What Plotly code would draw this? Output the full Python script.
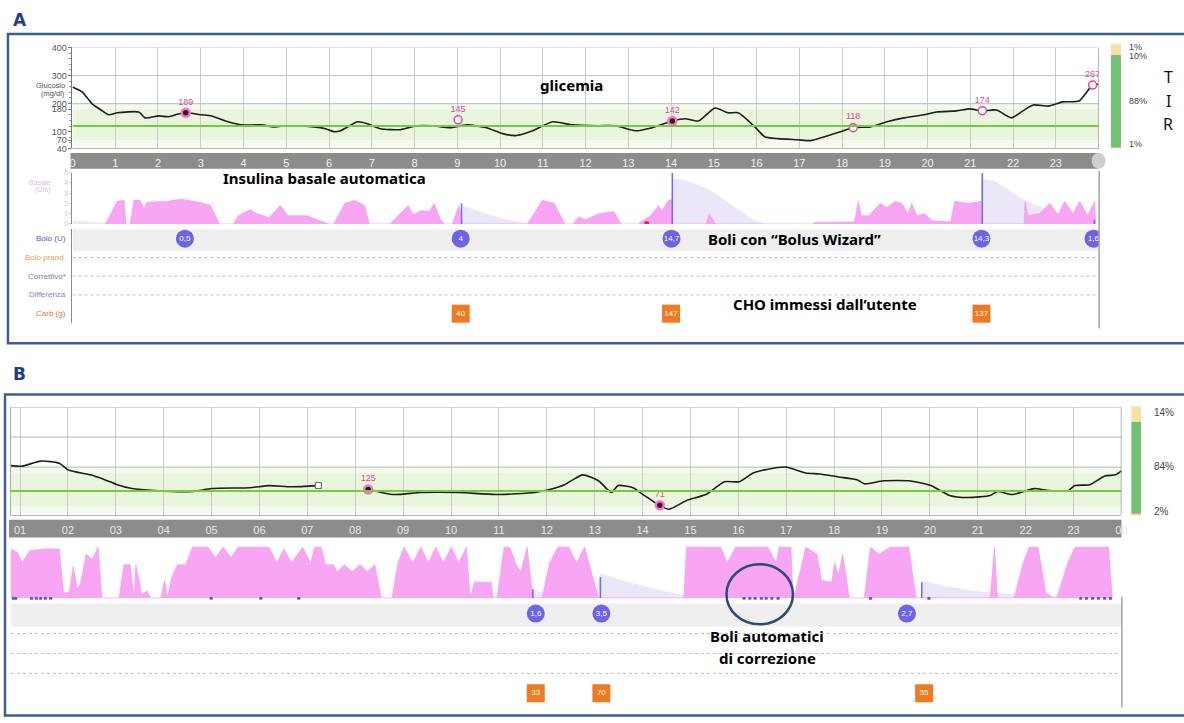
import plotly.graph_objects as go

W, H = 1184, 723

# ---------------- DATA : panel A ----------------
A_GLU_H = [0.0, 0.23, 0.46, 0.70, 0.85, 1.05, 1.55, 1.70, 2.02, 2.25, 2.48, 2.65, 3.02, 3.25, 3.64, 3.95,
           4.41, 4.72, 5.04, 5.65, 5.92, 6.11, 6.27, 6.44, 6.67, 6.90, 7.20, 7.67, 8.06, 8.43, 8.83, 9.22,
           9.68, 10.06, 10.38, 10.76, 11.23, 11.69, 12.31, 12.70, 13.17, 13.56, 14.03, 14.33, 14.64, 15.03,
           15.33, 15.57, 15.96, 16.19, 16.50, 16.96, 17.27, 17.59, 17.96, 18.26, 18.66, 19.05, 19.45, 19.91,
           20.21, 20.68, 20.98, 21.28, 21.61, 21.96, 22.23, 22.47, 22.84, 23.16, 23.54, 23.86, 24.0]
A_GLU_V = [259, 241, 199, 174, 160, 167, 170, 149, 156, 153, 163, 167, 160, 156, 135, 124,
           124, 117, 121, 117, 110, 100, 103, 117, 135, 128, 110, 107, 121, 121, 114, 124,
           114, 93, 86, 103, 135, 124, 121, 121, 103, 114, 138, 146, 138, 184,
           167, 167, 117, 82, 75, 71, 68, 82, 100, 114, 117, 135, 149, 160,
           170, 174, 181, 174, 177, 149, 174, 195, 191, 206, 209, 266, 269]
A_MARK_H = [2.65, 9.02, 14.03, 18.26, 21.28, 23.86]
A_MARK_V = [167, 142, 138, 114, 174, 266]
A_MARK_LBL = ["189", "145", "142", "118", "174", "267"]
A_MARK_FILLED = [True, False, True, False, False, False]

A_BASAL_H = [0.77, 1.05, 1.21, 1.25, 1.35, 1.44, 1.58, 1.67, 1.74, 2.21, 2.56, 3.00, 3.23, 3.44,
             3.76, 3.88, 4.16, 4.32, 4.60, 4.86, 5.04, 5.48, 5.92, 5.99, 6.11, 6.37, 6.60, 6.83, 6.95,
             7.43, 7.62, 7.85, 7.97, 8.16, 8.34, 8.46, 8.60, 8.69, 8.88, 9.04, 9.13, 10.64, 10.99, 11.27,
             11.52, 11.71, 11.85, 11.99, 12.31, 12.66, 12.83, 13.22, 13.52, 13.71, 13.78, 13.92, 14.01,
             14.03, 14.82, 14.89, 14.99, 15.05, 17.33, 17.35, 18.29, 18.38, 18.45, 18.63, 18.89, 19.05,
             19.24, 19.40, 19.54, 19.63, 19.75, 19.93, 20.10, 20.54, 20.63, 20.96, 21.26, 21.28, 22.26,
             22.28, 22.35, 22.61, 22.86, 23.05, 23.21, 23.40, 23.56, 23.74, 23.91, 23.93]
A_BASAL_V = [0, 2.2, 2.3, 0, 0, 2.3, 2.3, 1.5, 2.1, 2.2, 2.4, 2.1, 1.8, 0,
             0, 0.8, 1.4, 1.0, 0.6, 1.8, 0.8, 0.8, 0.1, 0, 0, 2.0, 2.3, 1.8, 0,
             0, 0.8, 1.8, 0.9, 1.3, 1.2, 2.0, 0.5, 0, 0, 1.8, 0, 0, 2.3, 2.0,
             0, 0, 0.7, 0.4, 1.0, 1.2, 0, 0, 0.8, 1.8, 1.2, 2.2, 2.4,
             0, 0, 1.0, 0.3, 0, 0, 0.15, 0.2, 2.2, 0.8, 0.8, 2.0, 1.6,
             2.2, 2.0, 1.0, 2.0, 0.8, 1.0, 0.3, 0.2, 2.2, 2.0, 2.2, 0, 0,
             2.2, 0.8, 1.0, 2.0, 0.9, 2.2, 1.0, 2.2, 0.8, 2.2, 0]
A_IOB_H = [0.0, 0.77, 0.8, 9.13, 9.13, 9.6, 10.1, 10.64, 10.7, 14.03, 14.03, 14.31, 14.92, 15.43, 15.94,
           16.2, 21.26, 21.26, 21.56, 21.9, 22.26, 22.8, 23.3, 23.9, 23.93]
A_IOB_V = [0.3, 0.1, 0, 0, 1.8, 1.1, 0.5, 0.1, 0, 0, 4.4, 4.3, 3.3, 1.8, 0.4,
           0, 0, 4.4, 4.2, 3.3, 2.3, 1.4, 0.8, 0.4, 0]
A_BOLUS_H = [2.63, 9.08, 14.01, 21.26, 23.88]
A_BOLUS_U = ["0,5", "4", "14,7", "14,3", "1,6"]
A_BOLUS_LINE_H = [9.10, 14.03, 21.28, 23.90]
A_BOLUS_LINE_V = [2.0, 5.0, 5.0, 0.4]
A_CARB_H = [9.08, 14.0, 21.26]
A_CARB_G = ["40", "147", "137"]
A_LOW_H = [13.43]
A_TIR = [1, 88, 10, 1]
A_TIR_LBL = ["1%", "88%", "10%", "1%"]
A_HOURS = list(range(0, 25))
A_HOUR_LBL = [str(h) for h in range(24)] + [""]

ROWS = ["Carb (g)", "Differenza", "Correttivo*", "Bolo prand.", "Bolo (U)"]
ROW_COLORS = ["#e07a2e", "#8c7ad6", "#7f6fd2", "#e8a04a", "#5b57c8"]

# ---------------- DATA : panel B ----------------
B_GLU_H = [0.81, 1.04, 1.43, 1.82, 2.01, 2.47, 2.78, 3.03, 3.34, 3.81, 4.60, 5.0, 5.80, 6.20, 6.67, 7.23, None,
           8.27, 8.81, 9.37, 10.16, 10.94, 11.75, 12.06, 12.37, 12.54, 12.75, 13.08, 13.35, 13.49, 13.80,
           14.01, 14.32, 14.55, 14.92, 15.32, 15.71, 16.02, 16.31, 16.62, 16.99, 17.41, 17.70, 18.09,
           18.49, 18.63, 19.03, 19.56, 20.02, 20.41, 20.79, 21.26, 21.41, 21.72, 22.18, 22.49, 22.88,
           23.03, 23.34, 23.65, 23.88, 24.0]
B_GLU_V = [205, 203, 220, 213, 190, 174, 157, 141, 128, 121, 118, 128, 131, 138, 134, 138, None,
           125, 108, 115, 115, 108, 115, 125, 141, 157, 174, 154, 115, 138, 131,
           108, 75, 59, 88, 108, 151, 151, 180, 193, 200, 180, 177, 167,
           157, 144, 154, 154, 138, 105, 98, 105, 118, 108, 128, 121, 121,
           138, 141, 170, 174, 187]
B_MARK_H = [8.27, 14.36]
B_MARK_V = [125, 72]
B_MARK_LBL = ["125", "71"]
B_GAP_END_H = [7.23]
B_GAP_END_V = [138]

B_BASAL_H = [0.81, 0.95, 1.04, 1.20, 1.51, 1.82, 1.91, 2.03, 2.11, 2.20, 2.26, 2.38, 2.51, 2.63, 2.71,
             3.07, 3.17, 3.30, 3.38, 3.42, 3.54, 3.65, 3.73, 3.94, 4.02, 4.08, 4.17, 4.29, 4.46, 4.60,
             4.77, 4.93, 5.08, 5.24, 5.41, 5.55, 6.20, 6.36, 6.51, 6.67, 6.90, 7.07, 7.15, 7.29, 7.38,
             7.54, 7.63, 7.77, 7.94, 8.10, 8.25, 8.41, 8.54, 8.77, 8.89, 9.02, 9.20, 9.37, 9.53, 9.68,
             9.84, 10.01, 10.16, 10.32, 10.40, 10.49, 10.84, 10.88, 10.96, 11.11, 11.23, 11.36, 11.46,
             11.59, 11.71, 11.90, 12.06, 12.23, 12.46, 12.62, 12.79, 13.02, 13.08, 14.86, 14.92, 15.63,
             15.77, 15.94, 16.62, 16.79, 16.85, 17.10, 17.14, 17.16, 17.41, 17.64, 17.74, 17.95, 18.01,
             18.09, 18.18, 18.32, 18.63, 18.76, 18.94, 19.17, 19.56, 19.71, 21.26, 21.35, 21.41, 21.76,
             21.95, 22.07, 22.26, 22.42, 22.57, 22.65, 22.88, 23.03, 23.73, 23.81]
B_BASAL_V = [2.8, 2.6, 2.0, 2.7, 2.8, 2.8, 0.3, 0.3, 1.8, 0.5, 0.8, 2.5, 2.2, 2.9, 0,
             0, 1.9, 1.9, 0, 1.9, 0.2, 0.4, 0, 0, 1.0, 0, 1.2, 1.9, 1.9, 2.9,
             2.9, 2.9, 2.3, 2.9, 2.3, 2.9, 2.9, 2.0, 2.8, 2.0, 2.9, 2.0, 2.9, 2.9, 1.9,
             1.9, 1.5, 1.9, 1.5, 1.9, 1.5, 1.9, 0, 0, 2.0, 2.9, 2.0, 2.9, 2.0, 2.9,
             2.0, 2.9, 2.0, 2.9, 0, 0.9, 0.9, 0, 0, 2.9, 2.9, 1.9, 1.5,
             2.9, 0, 0, 2.0, 2.9, 2.9, 2.0, 2.9, 0.5, 0, 0, 2.9, 2.9,
             2.0, 2.9, 2.9, 2.0, 2.9, 2.9, 0, 0, 2.9, 2.5, 1.0, 0.9, 2.0,
             1.3, 2.5, 0, 0, 2.9, 2.5, 2.9, 2.9, 0, 0, 2.9, 0, 0,
             2.0, 2.9, 2.9, 0.3, 0, 0, 2.0, 2.9, 2.9, 0]
B_IOB_H = [11.71, 11.71, 11.9, 12.1, 13.0, 13.12, 13.6, 14.2, 14.86, 14.9, 19.83, 19.83, 20.3, 20.8, 21.26, 21.8, 22.5, 23.3, 23.8]
B_IOB_V = [0, 0.5, 0.3, 0, 0, 1.4, 1.0, 0.55, 0.15, 0, 0, 1.0, 0.7, 0.45, 0.3, 0.2, 0.12, 0.05, 0]
B_BOLUS_H = [11.77, 13.14, 19.52]
B_BOLUS_U = ["1,6", "3,5", "2,7"]
B_BOLUS_LINE_H = [11.71, 13.12, 19.83]
B_BOLUS_LINE_V = [0.5, 1.2, 0.9]
B_CARB_H = [11.77, 13.14, 19.88]
B_CARB_G = ["33", "70", "55"]
B_AUTO_H = [0.86, 0.91, 1.24, 1.34, 1.43, 1.53, 1.64, 4.99, 6.03, 6.82, 16.12, 16.24, 16.35, 16.48,
            16.58, 16.70, 16.83, 18.76, 19.98, 23.15, 23.27, 23.40, 23.52, 23.65, 23.77]
B_TIR = [2, 84, 14]
B_HOURS = list(range(1, 25))
B_HOUR_LBL = ["%02d" % (h % 24) for h in range(1, 25)]

TIR_COLORS = ["#cbbd98", "#72c274", "#f7e2a4", "#f9e7b2"]

# ---------------- helpers ----------------
def fx(p):
    return p / W


def fy(p):
    return 1 - p / H


def dom_y(top, bottom):
    return [fy(bottom), fy(top)]


BASE = "Liberation Sans"
BOLD = "Noto Sans"
PINK = "#f8a6f4"
PINK_LINE = "#f295ec"
LAV = "#ebe7f8"

fig = go.Figure()

# ---------------- traces : panel A ----------------
fig.add_trace(go.Scatter(x=A_IOB_H, y=A_IOB_V, xaxis="x2", yaxis="y2", mode="lines", fill="tozeroy",
                         line=dict(width=0, color=LAV), fillcolor=LAV, hoverinfo="skip"))
fig.add_trace(go.Scatter(x=A_BASAL_H, y=A_BASAL_V, xaxis="x2", yaxis="y2", mode="lines", fill="tozeroy",
                         line=dict(width=0.6, color=PINK_LINE), fillcolor=PINK, hoverinfo="skip"))
lx, ly = [], []
for h, v in zip(A_BOLUS_LINE_H, A_BOLUS_LINE_V):
    lx += [h, h, None]
    ly += [0, v, None]
fig.add_trace(go.Scatter(x=lx, y=ly, xaxis="x2", yaxis="y2", mode="lines",
                         line=dict(width=1.6, color="#7a6fe0"), hoverinfo="skip"))
fig.add_trace(go.Scatter(x=A_LOW_H, y=[0.05] * len(A_LOW_H), xaxis="x2", yaxis="y2", mode="markers",
                         marker=dict(size=5, color="#e0205a"), hoverinfo="skip"))

fig.add_trace(go.Scatter(x=A_GLU_H, y=A_GLU_V, xaxis="x", yaxis="y", mode="lines",
                         line=dict(color="#1e1e1e", width=1.6, shape="spline", smoothing=0.6),
                         hoverinfo="skip"))
for filled in (True, False):
    idx = [i for i, f in enumerate(A_MARK_FILLED) if f == filled]
    fig.add_trace(go.Scatter(
        x=[A_MARK_H[i] for i in idx], y=[A_MARK_V[i] for i in idx],
        text=[A_MARK_LBL[i] for i in idx], xaxis="x", yaxis="y", mode="markers+text",
        textposition="top center", textfont=dict(size=9, color="#e0489c", family=BASE),
        marker=dict(size=8, color="#4a0a2a" if filled else "white",
                    line=dict(color="#f07cc4" if filled else "#e0489c", width=2.5 if filled else 1.5)),
        hoverinfo="skip"))

# rows (bolus / carbs)
fig.add_trace(go.Scatter(x=[0] * len(ROWS), y=ROWS, xaxis="x3", yaxis="y3", mode="markers",
                         marker=dict(size=1, opacity=0), hoverinfo="skip"))
fig.add_trace(go.Scatter(x=A_BOLUS_H, y=["Bolo (U)"] * len(A_BOLUS_H), text=A_BOLUS_U,
                         xaxis="x3", yaxis="y3", mode="markers+text", textposition="middle center",
                         textfont=dict(size=8, color="white", family=BASE),
                         marker=dict(size=18, color="#6c63e6"), hoverinfo="skip"))
fig.add_trace(go.Scatter(x=A_CARB_H, y=["Carb (g)"] * len(A_CARB_H), text=A_CARB_G,
                         xaxis="x3", yaxis="y3", mode="markers+text", textposition="middle center",
                         textfont=dict(size=8, color="white", family=BASE),
                         marker=dict(size=18, symbol="square", color="#f07a22"), hoverinfo="skip"))

# TIR A
for val, col in zip(A_TIR, TIR_COLORS):
    fig.add_trace(go.Bar(x=["TIR"], y=[val], xaxis="x4", yaxis="y4", marker=dict(color=col, line=dict(width=0)),
                         width=1, hoverinfo="skip"))

# ---------------- traces : panel B ----------------
fig.add_trace(go.Scatter(x=B_IOB_H, y=B_IOB_V, xaxis="x6", yaxis="y6", mode="lines", fill="tozeroy",
                         line=dict(width=0, color=LAV), fillcolor=LAV, hoverinfo="skip"))
fig.add_trace(go.Scatter(x=B_BASAL_H, y=B_BASAL_V, xaxis="x6", yaxis="y6", mode="lines", fill="tozeroy",
                         line=dict(width=0.6, color=PINK_LINE), fillcolor=PINK, hoverinfo="skip"))
lx, ly = [], []
for h, v in zip(B_BOLUS_LINE_H, B_BOLUS_LINE_V):
    lx += [h, h, None]
    ly += [0, v, None]
fig.add_trace(go.Scatter(x=lx, y=ly, xaxis="x6", yaxis="y6", mode="lines",
                         line=dict(width=1.6, color="#7a6fe0"), hoverinfo="skip"))
fig.add_trace(go.Scatter(x=B_AUTO_H, y=[-0.04] * len(B_AUTO_H), xaxis="x6", yaxis="y6", mode="markers",
                         marker=dict(size=3.5, color="#5b57d6"), hoverinfo="skip"))

fig.add_trace(go.Scatter(x=B_GLU_H, y=B_GLU_V, xaxis="x5", yaxis="y5", mode="lines",
                         line=dict(color="#1e1e1e", width=1.6, shape="spline", smoothing=0.6),
                         hoverinfo="skip"))
fig.add_trace(go.Scatter(x=B_GAP_END_H, y=B_GAP_END_V, xaxis="x5", yaxis="y5", mode="markers",
                         marker=dict(size=6, symbol="square", color="white", line=dict(color="#666", width=1)),
                         hoverinfo="skip"))
fig.add_trace(go.Scatter(x=B_MARK_H, y=B_MARK_V, text=B_MARK_LBL, xaxis="x5", yaxis="y5",
                         mode="markers+text", textposition="top center",
                         textfont=dict(size=9, color="#e0489c", family=BASE),
                         marker=dict(size=8, color="#4a0a2a", line=dict(color="#f07cc4", width=2.5)),
                         hoverinfo="skip"))

fig.add_trace(go.Scatter(x=[1] * len(ROWS), y=ROWS, xaxis="x7", yaxis="y7", mode="markers",
                         marker=dict(size=1, opacity=0), hoverinfo="skip"))
fig.add_trace(go.Scatter(x=B_BOLUS_H, y=["Bolo (U)"] * len(B_BOLUS_H), text=B_BOLUS_U,
                         xaxis="x7", yaxis="y7", mode="markers+text", textposition="middle center",
                         textfont=dict(size=8, color="white", family=BASE),
                         marker=dict(size=18, color="#6c63e6"), hoverinfo="skip"))
fig.add_trace(go.Scatter(x=B_CARB_H, y=["Carb (g)"] * len(B_CARB_H), text=B_CARB_G,
                         xaxis="x7", yaxis="y7", mode="markers+text", textposition="middle center",
                         textfont=dict(size=8, color="white", family=BASE),
                         marker=dict(size=18, symbol="square", color="#f07a22"), hoverinfo="skip"))

for val, col in zip(B_TIR, TIR_COLORS):
    fig.add_trace(go.Bar(x=["TIR"], y=[val], xaxis="x8", yaxis="y8", marker=dict(color=col, line=dict(width=0)),
                         width=1, hoverinfo="skip"))

# ---------------- axes ----------------
def hidden_x(domain, rng, anchor):
    return dict(domain=domain, range=rng, anchor=anchor, visible=False, fixedrange=True)


A_XD = [fx(70), fx(1104)]
B_XD = [fx(8), fx(1127)]
B_XR = [0.81, 24]

layout = dict(
    width=W, height=H, autosize=False, margin=dict(l=0, r=0, t=0, b=0),
    paper_bgcolor="white", plot_bgcolor="rgba(0,0,0,0)", showlegend=False, barmode="stack",
    font=dict(family=BASE),
    # A glucose
    xaxis=dict(domain=A_XD, range=[0, 24], anchor="y", showgrid=True, gridcolor="#cccccc", gridwidth=1,
               tickmode="array", tickvals=A_HOURS, ticktext=A_HOUR_LBL, ticks="",
               tickfont=dict(color="#f0f0f0", size=11, family=BASE), ticklabelstandoff=4,
               showline=True, linecolor="#b5b5b5", zeroline=False, fixedrange=True),
    yaxis=dict(domain=dom_y(43, 145.5), range=[40, 400], anchor="x", showgrid=False, zeroline=False,
               tickmode="array", tickvals=[400, 300, 200, 180, 100, 70, 40],
               ticktext=["400", "300", "200", "180", "100", "70", "40"],
               tickfont=dict(size=9, color="#555555", family=BASE), ticks="outside", ticklen=3,
               tickcolor="#777", showline=True, linecolor="#777777", fixedrange=True,
               minor=dict(ticks="outside", ticklen=2, tickcolor="#999", tick0=0, dtick=20, showgrid=False)),
    # A basal
    xaxis2=hidden_x(A_XD, [0, 24], "y2"),
    yaxis2=dict(domain=dom_y(170, 222), range=[0, 5], anchor="x2", showgrid=False, zeroline=False,
                tickvals=[0, 1, 2, 3, 4, 5], tickfont=dict(size=7, color="#cfc6de", family=BASE),
                ticks="outside", ticklen=2, tickcolor="#ccc", showline=True, linecolor="#8a8a8a",
                fixedrange=True),
    # A rows
    xaxis3=hidden_x(A_XD, [0, 24], "y3"),
    yaxis3=dict(domain=dom_y(227.5, 322.5), range=[-0.5, 4.5], anchor="x3", type="category",
                categoryorder="array", categoryarray=ROWS, showticklabels=False, showgrid=False,
                showline=True, linecolor="#8a8a8a", ticks="", fixedrange=True),
    # A TIR
    xaxis4=dict(domain=[fx(1116), fx(1127)], range=[-0.5, 0.5], anchor="y4", visible=False, fixedrange=True),
    yaxis4=dict(domain=dom_y(39, 145), range=[0, 100], anchor="x4", visible=False, fixedrange=True),
    # B glucose
    xaxis5=dict(domain=B_XD, range=B_XR, anchor="y5", showgrid=True, gridcolor="#cccccc", gridwidth=1,
                tickmode="array", tickvals=B_HOURS, ticktext=B_HOUR_LBL, ticks="",
                tickfont=dict(color="#e8e8e8", size=11, family=BASE), ticklabelstandoff=5,
                showline=True, linecolor="#b5b5b5", zeroline=False, fixedrange=True),
    yaxis5=dict(domain=dom_y(408, 517), range=[40, 400], anchor="x5", showgrid=False, zeroline=False,
                showticklabels=False, ticks="", showline=True, linecolor="#aaaaaa", fixedrange=True),
    xaxis6=hidden_x(B_XD, B_XR, "y6"),
    yaxis6=dict(domain=dom_y(548, 603), range=[-0.1, 3.0], anchor="x6", visible=False, fixedrange=True),
    xaxis7=hidden_x(B_XD, B_XR, "y7"),
    yaxis7=dict(domain=dom_y(607, 708), range=[-0.5, 4.5], anchor="x7", type="category",
                categoryorder="array", categoryarray=ROWS, visible=False, fixedrange=True),
    xaxis8=dict(domain=[fx(1137), fx(1147)], range=[-0.5, 0.5], anchor="y8", visible=False, fixedrange=True),
    yaxis8=dict(domain=dom_y(407, 517), range=[0, 100], anchor="x8", visible=False, fixedrange=True),
)
fig.update_layout(**layout)

# ---------------- shapes ----------------
shapes = []
for xr, yr, x0, x1 in (("x", "y", 0, 24), ("x5", "y5", B_XR[0], 24)):
    shapes.append(dict(type="rect", xref=xr, yref=yr, x0=x0, x1=x1, y0=180, y1=200, layer="below",
                       fillcolor="#f5faee", line=dict(width=0)))
    shapes.append(dict(type="rect", xref=xr, yref=yr, x0=x0, x1=x1, y0=45, y1=70, layer="below",
                       fillcolor="#f5faee", line=dict(width=0)))
    shapes.append(dict(type="rect", xref=xr, yref=yr, x0=x0, x1=x1, y0=70, y1=180, layer="below",
                       fillcolor="#e9f5dc", line=dict(width=0)))
    for gv in (400, 300, 200):
        shapes.append(dict(type="line", xref=xr, yref=yr, x0=x0, x1=x1, y0=gv, y1=gv, layer="below",
                           line=dict(color="#c4c4c4", width=1.2)))
    shapes.append(dict(type="line", xref=xr, yref=yr, x0=x0, x1=x1, y0=120, y1=120,
                       line=dict(color="#74cc3c", width=2)))
    shapes.append(dict(type="line", xref=xr, yref=yr, x0=24, x1=24, y0=40, y1=400,
                       line=dict(color="#888888", width=1.2)))

# grey hour bars
shapes.append(dict(type="rect", xref="paper", yref="paper", x0=fx(68), x1=fx(1104), y0=fy(166), y1=fy(150),
                   fillcolor="#8c8c8c", line=dict(width=0), layer="below"))
shapes.append(dict(type="circle", xref="paper", yref="paper", x0=fx(1097), x1=fx(1111), y0=fy(166), y1=fy(150),
                   fillcolor="#cfcfcf", line=dict(width=0), layer="below"))
shapes.append(dict(type="rect", xref="paper", yref="paper", x0=fx(6), x1=fx(1127), y0=fy(540), y1=fy(522),
                   fillcolor="#8c8c8c", line=dict(width=0), layer="below"))

# bolus row bands and dotted rows
for xr, yr, x0 in (("x3", "y3", 0), ("x7", "y7", B_XR[0])):
    shapes.append(dict(type="rect", xref=xr, yref=yr, x0=x0, x1=24, y0=3.35, y1=4.65, layer="below",
                       fillcolor="#efefef", line=dict(width=0)))
    for r in (1, 2, 3):
        shapes.append(dict(type="line", xref=xr, yref=yr, x0=x0, x1=24, y0=r, y1=r, layer="below",
                           line=dict(color="#bdbdbd", width=1, dash="dot")))
shapes.append(dict(type="line", xref="paper", yref="paper", x0=fx(1104.5), x1=fx(1104.5), y0=fy(328), y1=fy(168),
                   line=dict(color="#8a8a8a", width=1.2)))
shapes.append(dict(type="line", xref="paper", yref="paper", x0=fx(1127.5), x1=fx(1127.5), y0=fy(712), y1=fy(600),
                   line=dict(color="#8a8a8a", width=1.2)))

# panel frames
shapes.append(dict(type="rect", xref="paper", yref="paper", x0=fx(5), x1=fx(1195), y0=fy(343), y1=fy(29.5),
                   line=dict(color="#3b5f92", width=2.5)))
shapes.append(dict(type="rect", xref="paper", yref="paper", x0=fx(2), x1=fx(1195), y0=fy(720.5), y1=fy(395),
                   line=dict(color="#3b5f92", width=2.5)))
# highlight ellipse
shapes.append(dict(type="circle", xref="paper", yref="paper", x0=fx(729), x1=fx(796), y0=fy(628), y1=fy(567),
                   line=dict(color="#2d4a78", width=2.5)))
fig.update_layout(shapes=shapes)

# ---------------- annotations ----------------
ann = []


def txt(x, y, s, size=9, color="#555", family=BASE, xanchor="center", bold=False, **kw):
    ann.append(dict(x=fx(x), y=fy(y), xref="paper", yref="paper", text=("<b>%s</b>" % s) if bold else s,
                    showarrow=False, xanchor=xanchor, yanchor="middle",
                    font=dict(size=size, color=color, family=family), **kw))


txt(8, 15, "A", size=17, color="#233f8c", family="DejaVu Sans", xanchor="left", bold=True)
txt(8, 374, "B", size=17, color="#233f8c", family="DejaVu Sans", xanchor="left", bold=True)
txt(64, 82, "Glucosio", size=7.5, color="#555", xanchor="right")
txt(64, 90, "(mg/dl)", size=7.5, color="#555", xanchor="right")
txt(50, 180, "Basale", size=7, color="#e2b6e8", xanchor="right")
txt(50, 188, "(U/h)", size=7, color="#e2b6e8", xanchor="right")

for name, col in zip(ROWS, ROW_COLORS):
    ann.append(dict(x=fx(66), xref="paper", y=name, yref="y3", text=name, showarrow=False,
                    xanchor="right", yanchor="middle", font=dict(size=8, color=col, family=BASE)))

# TIR labels
txt(1133, 43, A_TIR_LBL[3], size=9, color="#444", xanchor="left")
txt(1133, 52, A_TIR_LBL[2], size=9, color="#444", xanchor="left")
txt(1133, 97, A_TIR_LBL[1], size=9, color="#444", xanchor="left")
txt(1133, 141, A_TIR_LBL[0], size=9, color="#444", xanchor="left")
txt(1158, 413, "%d%%" % B_TIR[2], size=10, color="#444", xanchor="left")
txt(1158, 468, "%d%%" % B_TIR[1], size=10, color="#444", xanchor="left")
txt(1158, 514, "%d%%" % B_TIR[0], size=10, color="#444", xanchor="left")
for i, ch in enumerate("TIR"):
    txt(1174, 73 + i * 24, ch, size=16, color="#111", family=BOLD)

# explanatory overlays
txt(573, 81, "glicemia", size=15, color="#000", family=BOLD, bold=True)
txt(324, 175, "Insulina basale automatica", size=15, color="#000", family=BOLD, bold=True)
txt(798, 237, "Boli con “Bolus Wizard”", size=15, color="#000", family=BOLD, bold=True)
txt(828, 303, "CHO immessi dall’utente", size=15, color="#000", family=BOLD, bold=True)
txt(770, 640, "Boli automatici", size=15, color="#000", family=BOLD, bold=True)
txt(770, 662, "di correzione", size=15, color="#000", family=BOLD, bold=True)

fig.update_layout(annotations=ann)

fig.write_html("out.html", config={"displayModeBar": False},
               post_script="document.body.style.margin='0';document.body.style.overflow='hidden';")
